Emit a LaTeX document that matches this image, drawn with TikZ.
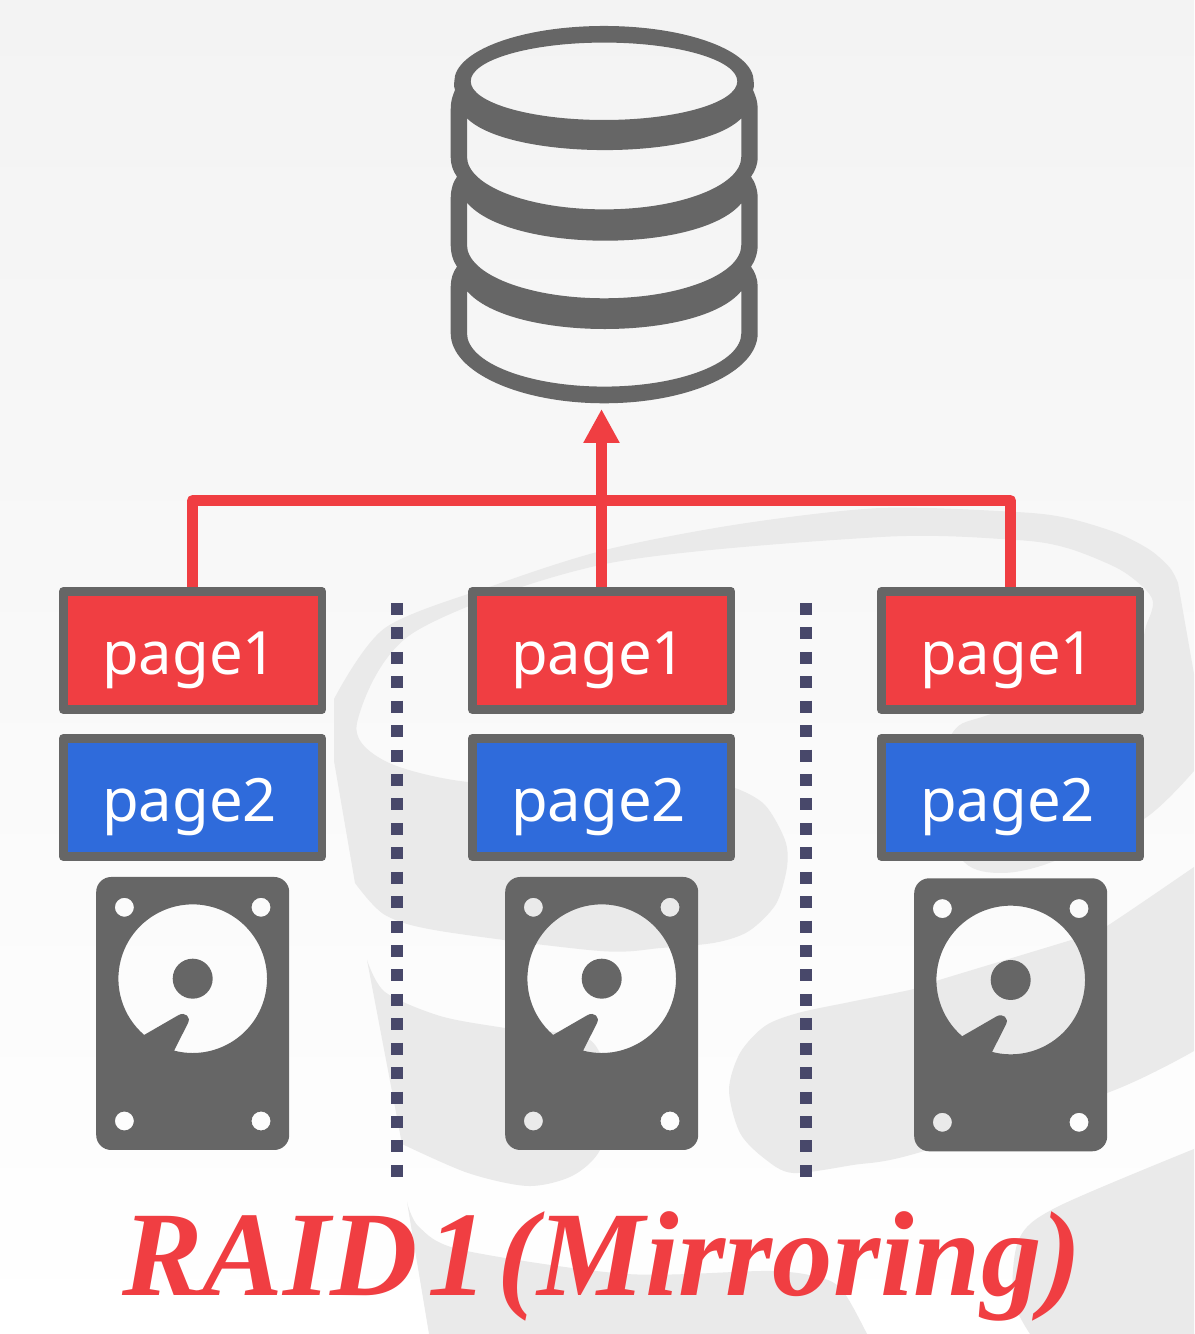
\documentclass[tikz,border=0pt]{standalone}
\usepackage{fontspec}
\setmainfont{Noto Sans}
\newfontfamily\titlefont{Liberation Serif}
\usetikzlibrary{arrows.meta}
\definecolor{bgtop}{HTML}{F3F3F3}
\definecolor{logogray}{HTML}{EAEAEA}
\definecolor{iconogray}{HTML}{666666}
\definecolor{pagered}{HTML}{F03E42}
\definecolor{pageblue}{HTML}{2F6BDB}
\definecolor{sepblue}{HTML}{48486A}
\tikzset{
	pagebox/.style={draw=iconogray, line width=0.087cm, line join=round, text=white,
		inner xsep=0.39cm, inner ysep=0cm, text width=1.807cm, align=left,
		text height=0.83cm, text depth=0.354cm, font=\fontsize{17}{17}\selectfont},
	redline/.style={draw=pagered, line width=0.11cm, line join=round},
	sepline/.style={draw=sepblue, line width=0.12cm, dash pattern=on 0.12cm off 0.1243cm},
	titletext/.style={text=pagered, font=\titlefont\bfseries\itshape\fontsize{34.4}{36}\selectfont}
}
\def\harddrive(#1,#2){
	\begin{scope}[shift={(#1,#2)}]
		\fill[iconogray, even odd rule]
			[rounded corners=0.15cm] (-0.965,-1.713) rectangle (0.965,1.017) [sharp corners]
			(-0.683,0.714) circle (0.095) (0.683,0.714) circle (0.095)
			(-0.683,-1.423) circle (0.095) (0.683,-1.423) circle (0.095)
			(0,0) circle (0.2)
			(255.5:0.743) arc[start angle=255.5, end angle=589.2, radius=0.743] -- (-0.14,-0.363)
			.. controls (-0.08,-0.33) and (-0.01,-0.38) .. (-0.05,-0.45) -- cycle;
	\end{scope}
}

\begin{document}
\begin{tikzpicture}
	\useasboundingbox (0,0) rectangle (11.94,13.34);
	%%%%% BACKGROUND %%%%%
	\shade[top color=bgtop, bottom color=white] (0,0) rectangle (11.94,13.34);
	
	\fill[logogray] plot[smooth] coordinates {(3.34,6.35) (3.85,7.06) (4.95,7.49) (6.05,7.84) (7.40,8.10) (8.81,8.26) (10.16,8.22) (10.67,8.16) (11.17,8.01) (11.50,7.84) (11.70,7.66) (11.78,7.51)}
		-- (11.94,6.60) -- (11.94,5.63)
		-- plot[smooth] coordinates {(11.94,5.63) (11.44,5.15) (10.52,4.72) (10.02,4.61) (9.64,4.72) (9.30,5.34) (9.53,6.02) (9.91,6.20) (11.23,6.64) (11.47,7.11) (11.53,7.32) (11.43,7.47) (11.17,7.66) (10.67,7.86) (10.16,7.94) (8.81,7.97) (6.05,7.70) (4.13,7.01) (3.57,6.11) (3.85,5.73) (4.68,5.52) (6.00,5.50) (7.00,5.52) (7.35,5.46) (7.65,5.29) (7.85,4.94) (7.87,4.67) (7.76,4.30) (7.49,4.03) (7.16,3.915) (6.61,3.86) (6.00,3.83) (4.40,4.03) (3.85,4.19) (3.55,4.51)}
		-- (3.34,5.73) -- cycle;
	\fill[logogray] plot[smooth] coordinates {(3.67,3.74) (3.85,3.42) (4.40,3.18) (5.05,3.06) (5.90,2.94) (6.10,2.34) (6.00,1.84) (5.72,1.58) (5.28,1.48) (4.68,1.61) (4.02,1.90)} -- cycle;
	\fill[logogray] plot[smooth] coordinates {(11.94,4.67) (11.07,4.08) (10.84,3.98) (9.36,3.53) (9.14,3.45) (8.50,3.32) (7.98,3.21) (7.65,3.08) (7.40,2.81) (7.29,2.44) (7.40,2.01) (7.65,1.75) (7.93,1.61) (8.53,1.69) (9.14,1.80) (11.07,2.41) (11.94,2.83)} -- cycle;
	\fill[logogray] plot[smooth] coordinates {(4.07,1.32) (4.19,1.07) (4.62,0.84) (6.27,0.60) (7.71,0.63) (8.25,0.55) (8.45,0.40) (8.67,0)} -- (4.29,0) -- cycle;
	\fill[logogray] plot[smooth] coordinates {(11.94,1.85) (10.57,1.27) (10.19,0.95) (10.13,0.36) (10.30,0)} -- (11.94,0) -- cycle;
	
	%%%%% DATABASE %%%%%
	\fill[iconogray, even odd rule]
		(4.507,12.24) .. controls (4.507,12.34) and (4.53,12.39) .. (4.55,12.44)
		.. controls (4.54,12.47) .. (4.543,12.527)
		arc[start angle=180, end angle=0, x radius=1.497, y radius=0.553]
		.. controls (7.54,12.47) .. (7.53,12.44)
		.. controls (7.55,12.39) and (7.577,12.34) .. (7.577,12.24)
		-- (7.577,11.773) .. controls (7.577,11.69) and (7.55,11.63) .. (7.51,11.573)
		.. controls (7.55,11.52) and (7.577,11.44) .. (7.577,11.357)
		-- (7.577,10.89) .. controls (7.577,10.81) and (7.55,10.73) .. (7.51,10.673)
		.. controls (7.55,10.62) and (7.577,10.55) .. (7.577,10.473)
		-- (7.577,10.007)
		arc[start angle=0, end angle=-180, x radius=1.535, y radius=0.70]
		-- (4.507,10.473) .. controls (4.507,10.55) and (4.53,10.62) .. (4.57,10.673)
		.. controls (4.53,10.73) and (4.507,10.81) .. (4.507,10.89)
		-- (4.507,11.357) .. controls (4.507,11.44) and (4.53,11.52) .. (4.57,11.573)
		.. controls (4.53,11.63) and (4.507,11.69) .. (4.507,11.773) -- cycle
		(6.04,12.527) ellipse (1.333 and 0.387)
		(4.67,12.157) .. controls (5.1,11.733) and (7.0,11.733) .. (7.413,12.157)
		-- (7.413,11.773) arc[start angle=0, end angle=-180, x radius=1.3715, y radius=0.527] -- cycle
		(4.67,11.313) .. controls (5.1,10.807) and (7.0,10.807) .. (7.413,11.307)
		-- (7.413,10.89) arc[start angle=0, end angle=-180, x radius=1.3715, y radius=0.533] -- cycle
		(4.67,10.43) .. controls (5.1,9.923) and (7.0,9.923) .. (7.413,10.43)
		-- (7.413,10.007) arc[start angle=0, end angle=-180, x radius=1.3715, y radius=0.533] -- cycle;
	
	%%%%% PAGES %%%%%
	\node[pagebox, fill=pagered] (pagea1) at (1.925, 6.835) {page1};
	\node[pagebox, fill=pageblue] (pagea2) at (1.925, 5.365) {page2};
	\node[pagebox, fill=pagered] (pageb1) at (6.015, 6.835) {page1};
	\node[pagebox, fill=pageblue] (pageb2) at (6.015, 5.365) {page2};
	\node[pagebox, fill=pagered] (pagec1) at (10.105, 6.835) {page1};
	\node[pagebox, fill=pageblue] (pagec2) at (10.105, 5.365) {page2};
	
	\coordinate (bar) at (6.015, 8.335);
	\coordinate (tip) at (6.015, 9.25);
	\draw[redline] (pagea1.north) |- (bar) -| (pagec1.north);
	\draw[redline, -{Triangle[length=0.34cm, width=0.34cm]}] (pageb1.north) -- (tip);
	
	%%%%% DRIVES %%%%%
	\harddrive(1.927, 3.553)
	\harddrive(6.017, 3.553)
	\harddrive(10.107, 3.54)
	
	\draw[sepline] (3.97, 7.31) -- (3.97, 1.57);
	\draw[sepline] (8.06, 7.31) -- (8.06, 1.57);
	
	\node[titletext, anchor=base] (title) at (6.02, 0.39) {\spaceskip=0.08em RAID 1 (Mirroring)};
\end{tikzpicture}
\end{document}
